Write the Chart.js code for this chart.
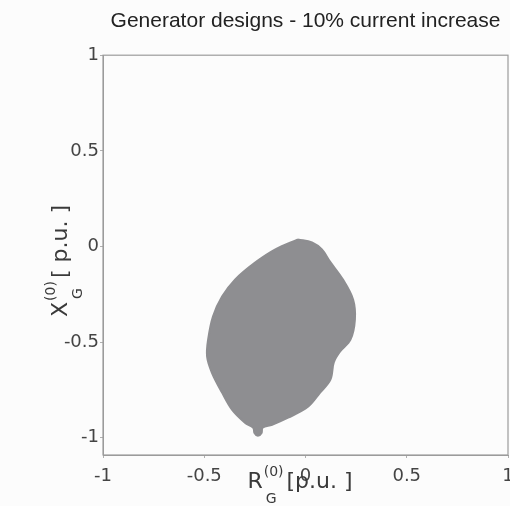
<!DOCTYPE html>
<html>
<head>
<meta charset="utf-8">
<script src="https://cdn.jsdelivr.net/npm/chart.js@4.4.1/dist/chart.umd.min.js"></script>
<style>
  html, body { margin: 0; padding: 0; background: #fcfcfc; }
  #wrap { width: 510px; height: 506px; }
</style>
</head>
<body>
<div id="wrap"><canvas id="myChart"></canvas></div>
<script>
const chartTitle = "Generator designs - 10% current increase";

const xTickValues = [-1, -0.5, 0, 0.5, 1];
const xTickLabels = ["-1", "-0.5", "0", "0.5", "1"];
const yTickValues = [-1, -0.5, 0, 0.5, 1];
const yTickLabels = ["-1", "-0.5", "0", "0.5", "1"];

// outline of the feasible region (clockwise from top)
const regionX = [-0.037, 0.032, 0.081, 0.121, 0.185, 0.235, 0.244, 0.222, 0.17, 0.14, 0.123, 0.072, 0.012,
  -0.086, -0.165, -0.212, -0.217, -0.235, -0.252, -0.258, -0.299, -0.363, -0.412, -0.462, -0.486, -0.481,
  -0.457, -0.412, -0.348, -0.249, -0.151, -0.037];
const regionY = [0.037, 0.021, -0.016, -0.079, -0.173, -0.277, -0.382, -0.487, -0.55, -0.605, -0.696, -0.764, -0.838,
  -0.895, -0.932, -0.948, -0.975, -0.99, -0.975, -0.948, -0.921, -0.853, -0.764, -0.66, -0.576, -0.487,
  -0.366, -0.262, -0.173, -0.084, -0.016, 0.037];

const regionPoints = regionX.map((x, i) => ({ x: x, y: regionY[i] }));

const labelFont = "'DejaVu Sans', sans-serif";

// draws a label like R^(0)_G [p.u. ] centred on (0,0) of the current transform
function drawSubSupLabel(ctx, main, sup, sub, rest) {
  const big = "22px " + labelFont;
  const small = "14px " + labelFont;
  ctx.font = big;
  const wMain = ctx.measureText(main).width;
  const wRest = ctx.measureText(rest).width;
  ctx.font = small;
  const wSmall = Math.max(ctx.measureText(sup).width, ctx.measureText(sub).width);
  const total = wMain + wSmall + wRest + 4;
  let x = -total / 2;
  ctx.fillStyle = "#3a3a3a";
  ctx.textBaseline = "alphabetic";
  ctx.textAlign = "left";
  ctx.font = big;
  ctx.fillText(main, x, 0);
  x += wMain;
  ctx.font = small;
  ctx.fillText(sup, x + 1, -12);
  ctx.fillText(sub, x + 3, 15);
  x += wSmall + 4;
  ctx.font = big;
  ctx.fillText(rest, x, 0);
}

const axisLabels = {
  id: "axisLabels",
  afterDraw(chart) {
    const ctx = chart.ctx;
    const area = chart.chartArea;
    // box around the plot
    ctx.save();
    ctx.strokeStyle = "#9c9c9c";
    ctx.lineWidth = 1.2;
    ctx.strokeRect(area.left, area.top, area.right - area.left, area.bottom - area.top);
    ctx.restore();

    ctx.save();
    ctx.translate(300, 488);
    drawSubSupLabel(ctx, "R", "(0)", "G", "[p.u. ]");
    ctx.restore();

    ctx.save();
    ctx.translate(67, 261);
    ctx.rotate(-Math.PI / 2);
    drawSubSupLabel(ctx, "X", "(0)", "G", "[ p.u. ]");
    ctx.restore();
  },
};

const ctx = document.getElementById("myChart");

new Chart(ctx, {
  type: "scatter",
  data: {
    datasets: [
      {
        data: regionPoints,
        showLine: true,
        fill: "shape",
        tension: 0.35,
        borderColor: "#8e8e91",
        backgroundColor: "#8e8e91",
        borderWidth: 2,
        pointRadius: 0,
      },
    ],
  },
  options: {
    responsive: true,
    maintainAspectRatio: false,
    animation: false,
    layout: { padding: { top: 0, right: 2, left: 0, bottom: 0 } },
    plugins: {
      legend: { display: false },
      tooltip: { enabled: false },
      title: {
        display: true,
        text: chartTitle,
        fullSize: false,
        color: "#222",
        font: { family: "'Liberation Sans', Arial, sans-serif", size: 21, weight: "normal" },
        padding: { top: 9, bottom: 21 },
      },
    },
    scales: {
      x: {
        type: "linear",
        min: -1,
        max: 1,
        afterBuildTicks: (scale) => {
          scale.ticks = xTickValues.map((v) => ({ value: v }));
        },
        afterFit: (scale) => {
          scale.height = 51;
          scale.paddingLeft = 0;
          scale.paddingRight = 0;
        },
        ticks: {
          maxRotation: 0,
          padding: 8,
          color: "#444",
          font: { family: labelFont, size: 18 },
          callback: (value, index) => xTickLabels[index],
        },
        grid: { drawOnChartArea: false, tickLength: 3, color: "#b0b0b0" },
        border: { color: "#9c9c9c" },
      },
      y: {
        type: "linear",
        min: -1.09,
        max: 1,
        afterBuildTicks: (scale) => {
          scale.ticks = yTickValues.map((v) => ({ value: v }));
        },
        afterFit: (scale) => {
          scale.width = 103;
        },
        ticks: {
          padding: 1,
          color: "#444",
          font: { family: labelFont, size: 18 },
          callback: (value, index) => yTickLabels[index],
        },
        grid: { drawOnChartArea: false, tickLength: 3, color: "#b0b0b0" },
        border: { color: "#9c9c9c" },
      },
    },
  },
  plugins: [axisLabels],
});
</script>
</body>
</html>
